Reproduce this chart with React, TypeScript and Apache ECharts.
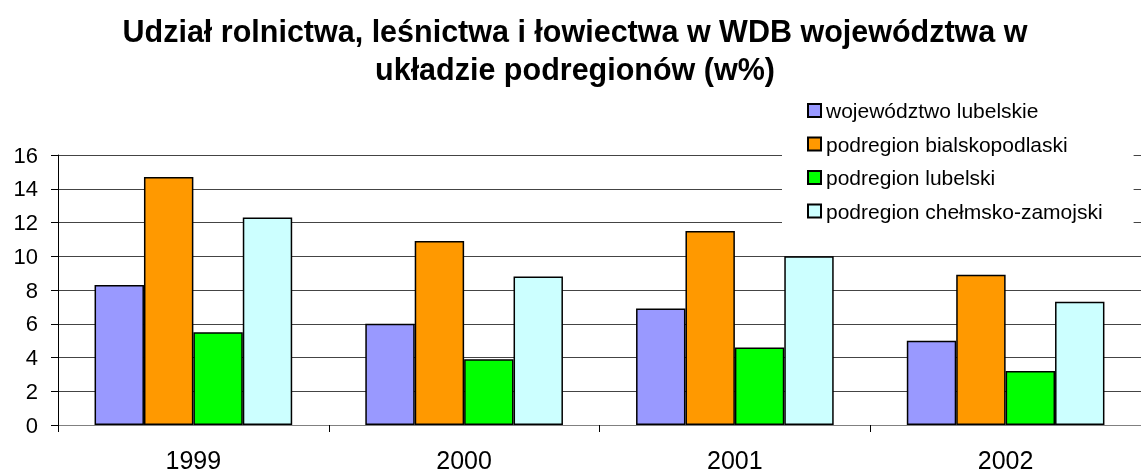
import React, { useEffect, useRef } from "react";
import * as echarts from "echarts";

const categories = ["1999", "2000", "2001", "2002"];
const seriesNames = [
  "województwo lubelskie",
  "podregion bialskopodlaski",
  "podregion lubelski",
  "podregion chełmsko-zamojski",
];
const wojewodztwo = [8.3, 6.0, 6.9, 5.0];
const bialskopodlaski = [14.7, 10.9, 11.5, 8.9];
const lubelski = [5.5, 3.9, 4.6, 3.2];
const chelmskoZamojski = [12.3, 8.8, 10.0, 7.3];
const yTicks = [0, 2, 4, 6, 8, 10, 12, 14, 16];
const colors = ["#9999ff", "#ff9900", "#00ff00", "#ccffff"];

export default function App() {
  const ref = useRef<HTMLDivElement>(null);
  useEffect(() => {
    if (!ref.current) return;
    const chart = echarts.init(ref.current, undefined, { renderer: "svg" });
    const values = [wojewodztwo, bialskopodlaski, lubelski, chelmskoZamojski];
    const font = "Liberation Sans";
    const legendText = { fontFamily: font, fontSize: 21, color: "#000" };
    chart.setOption({
      animation: false,
      textStyle: { fontFamily: font },
      title: {
        text: "Udział rolnictwa, leśnictwa i łowiectwa w WDB województwa w\nukładzie podregionów (w%)",
        left: 570,
        top: 7,
        textAlign: "center",
        textStyle: {
          fontFamily: font,
          fontSize: 30.5,
          fontWeight: "bold",
          color: "#000",
          lineHeight: 38,
        },
      },
      legend: {
        orient: "vertical",
        left: 782,
        top: 92,
        padding: [8, 31, 8, 25],
        backgroundColor: "#fff",
        itemWidth: 13,
        itemHeight: 13,
        itemGap: 12.5,
        icon: "rect",
        z: 10,
        textStyle: legendText,
        data: seriesNames.map((n) => ({ name: n, textStyle: legendText })),
      },
      grid: { left: 58, right: -12, top: 155, bottom: 48, containLabel: false },
      xAxis: {
        type: "category",
        data: categories,
        axisLine: { lineStyle: { color: "#808080", width: 1 } },
        axisTick: { show: true, alignWithLabel: false, length: 7, lineStyle: { color: "#000" } },
        axisLabel: { fontSize: 25, color: "#000", margin: 22, fontFamily: font },
      },
      yAxis: {
        type: "value",
        min: 0,
        max: 16,
        interval: 2,
        axisLine: { show: true, lineStyle: { color: "#000", width: 1 } },
        axisTick: { show: true, length: 7, lineStyle: { color: "#000" } },
        axisLabel: { fontSize: 22, color: "#000", margin: 20, fontFamily: font },
        splitLine: { lineStyle: { color: "#444", width: 1 } },
      },
      series: seriesNames.map((name, i) => ({
        name,
        type: "bar",
        data: values[i],
        barGap: "0%",
        barCategoryGap: "27%",
        itemStyle: { color: colors[i], borderColor: "#000", borderWidth: 1.5 },
      })),
    });
    return () => chart.dispose();
  }, []);
  return (
    <div
      ref={ref}
      style={{ position: "fixed", left: 0, top: 0, width: 1141, height: 473 }}
    />
  );
}
